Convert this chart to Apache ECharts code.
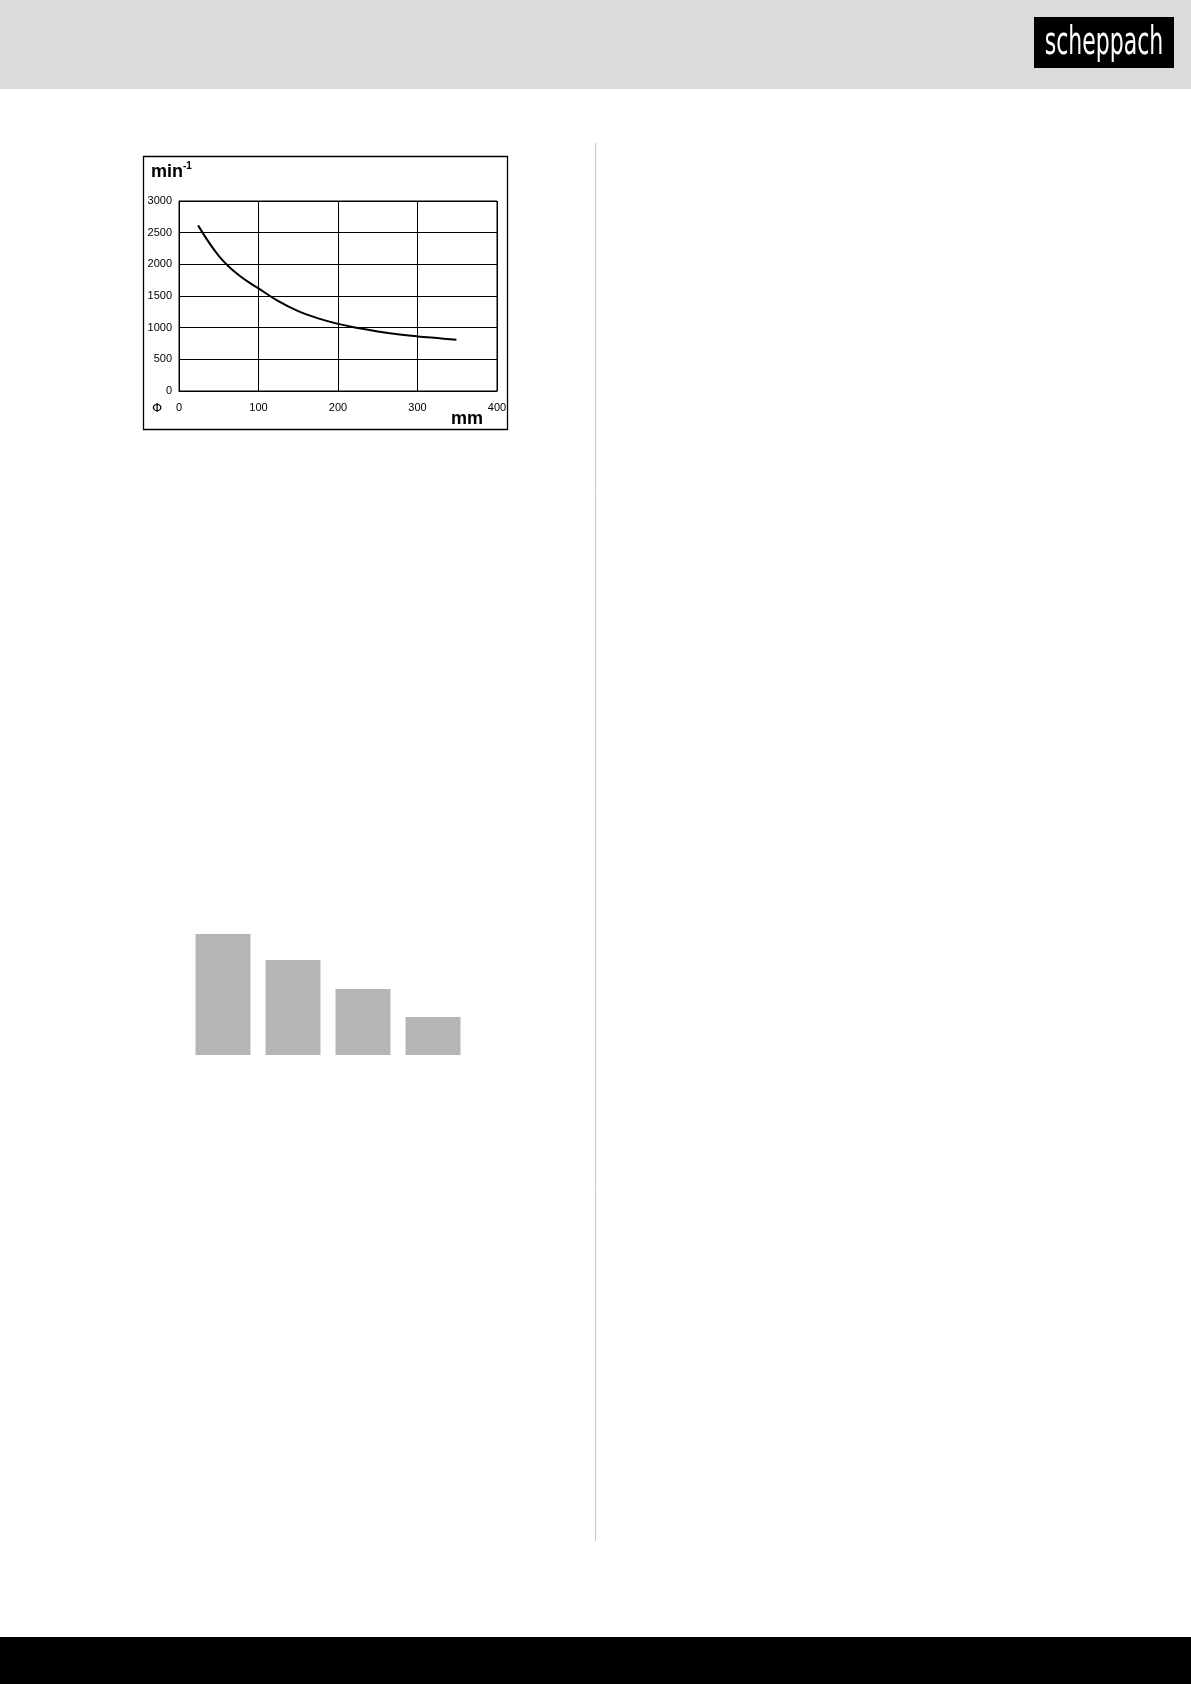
<!DOCTYPE html>
<html>
<head>
<meta charset="utf-8">
<script src="https://cdn.jsdelivr.net/npm/echarts@6/dist/echarts.min.js"></script>
<style>
html,body{margin:0;padding:0;background:#fff;}
#c{width:1191px;height:1684px;}
</style>
</head>
<body>
<div id="c"></div>
<script>
// Speed chart: workpiece diameter (mm) vs. speed (min^-1)
const diameterMm = [24, 50, 75, 100, 125, 150, 175, 200, 225, 250, 275, 300, 325, 349];
const speedRpm   = [2615, 2135, 1830, 1620, 1418, 1260, 1146, 1060, 996, 941, 896, 862, 835, 810];
const xMin = 0, xMax = 400, xStep = 100;
const yMin = 0, yMax = 3000, yStep = 500;

// Grey bar group (relative heights)
const barCategories = ['1', '2', '3', '4'];
const barValues = [121, 95, 66, 38];

const yUnitMain = 'min';
const yUnitSup = '-1';
const xUnit = 'mm';
const diameterSymbol = 'Φ';
const brand = 'scheppach';

const chart = echarts.init(document.getElementById('c'), null, {renderer: 'canvas'});
const font = 'Liberation Sans, Arial, sans-serif';

chart.setOption({
  animation: false,
  backgroundColor: '#ffffff',
  grid: [
    {left: 179, top: 201, width: 318, height: 190, show: true, borderColor: '#000', borderWidth: 1, backgroundColor: 'transparent'},
    {left: 188, top: 925, width: 280, height: 130}
  ],
  xAxis: [
    {type: 'value', gridIndex: 0, min: xMin, max: xMax, interval: xStep,
     axisLine: {show: true, lineStyle: {color: '#000', width: 1}},
     axisTick: {show: false},
     splitLine: {show: true, lineStyle: {color: '#000', width: 1}},
     axisLabel: {color: '#000', fontSize: 11, fontFamily: font, margin: 11, formatter: v => String(v)}},
    {type: 'category', gridIndex: 1, data: barCategories, show: false}
  ],
  yAxis: [
    {type: 'value', gridIndex: 0, min: yMin, max: yMax, interval: yStep,
     axisLine: {show: true, lineStyle: {color: '#000', width: 1}},
     axisTick: {show: false},
     splitLine: {show: true, lineStyle: {color: '#000', width: 1}},
     axisLabel: {color: '#000', fontSize: 11, fontFamily: font, margin: 7, formatter: v => String(v)}},
    {type: 'value', gridIndex: 1, min: 0, max: 130, show: false, splitLine: {show: false}}
  ],
  series: [
    {type: 'line', xAxisIndex: 0, yAxisIndex: 0, smooth: 0.4, symbol: 'none',
     lineStyle: {color: '#000', width: 2},
     data: diameterMm.map((d, i) => [d, speedRpm[i]])},
    {type: 'bar', xAxisIndex: 1, yAxisIndex: 1, barWidth: 55,
     itemStyle: {color: '#b5b5b5'}, data: barValues}
  ],
  graphic: [
    {type: 'rect', shape: {x: 0, y: 0, width: 1191, height: 89}, style: {fill: '#dcdcdc'}, z: -10},
    {type: 'rect', shape: {x: 1034, y: 17, width: 140, height: 51}, style: {fill: '#000'}},
    {type: 'text', x: 1104, y: 44, scaleX: 0.68, scaleY: 1.1, style: {text: brand, fill: '#fff', fontSize: 36, fontFamily: 'Liberation Sans Narrow, DejaVu Sans Condensed, sans-serif', align: 'center', verticalAlign: 'middle'}},
    {type: 'rect', shape: {x: 0, y: 1637, width: 1191, height: 47}, style: {fill: '#000'}},
    {type: 'line', shape: {x1: 595.5, y1: 143, x2: 595.5, y2: 1541}, style: {stroke: '#c8c8c8', lineWidth: 1}},
    {type: 'rect', shape: {x: 143.5, y: 156.5, width: 364, height: 273}, style: {fill: 'none', stroke: '#000', lineWidth: 1.3}},
    {type: 'text', x: 151, y: 181, style: {text: yUnitMain, fill: '#000', fontSize: 18, fontWeight: 'bold', fontFamily: font, verticalAlign: 'bottom'}},
    {type: 'text', x: 183, y: 161, style: {text: yUnitSup, fill: '#000', fontSize: 10, fontWeight: 'bold', fontFamily: font, verticalAlign: 'top'}},
    {type: 'text', x: 451, y: 428, style: {text: xUnit, fill: '#000', fontSize: 18, fontWeight: 'bold', fontFamily: font, verticalAlign: 'bottom'}},
    {type: 'text', x: 157, y: 409, style: {text: diameterSymbol, fill: '#000', fontSize: 13, fontFamily: 'DejaVu Sans, sans-serif', align: 'center', verticalAlign: 'middle'}}
  ]
});
</script>
</body>
</html>
